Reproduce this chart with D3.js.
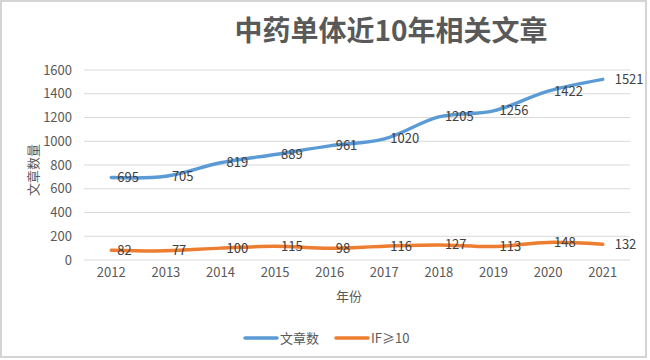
<!DOCTYPE html>
<html>
<head>
<meta charset="utf-8">
<script src="https://cdn.jsdelivr.net/npm/d3@7"></script>
<style>
	body { margin: 0; background: #fff; }
	svg text { font-family: "Noto Sans CJK SC", "Noto Sans", sans-serif; }
</style>
</head>
<body>
<svg id="chart" width="650" height="360"></svg>
<script>
// Data
const years = ["2012", "2013", "2014", "2015", "2016", "2017", "2018", "2019", "2020", "2021"];
const articles = [695, 705, 819, 889, 961, 1020, 1205, 1256, 1422, 1521];
const highIF = [82, 77, 100, 115, 98, 116, 127, 113, 148, 132];
const yTicks = [0, 200, 400, 600, 800, 1000, 1200, 1400, 1600];
const seriesNames = ["文章数", "IF≥10"];

const colors = ["#5B9BD5", "#ED7D31"];
const margin = { top: 70, right: 20, bottom: 100, left: 84 };

const svg = d3.select("#chart");

// outer frame
svg.append("rect")
	.attr("x", 1).attr("y", 1)
	.attr("width", 645).attr("height", 356)
	.attr("fill", "#fff")
	.attr("stroke", "#d4d4d4")
	.attr("stroke-width", 2);

const x = d3.scaleBand()
	.domain(years)
	.range([margin.left, 630]);

const y = d3.scaleLinear()
	.domain([0, 1600])
	.range([260, margin.top]);

// gridlines
svg.append("g")
	.selectAll("line")
	.data(yTicks)
	.join("line")
	.attr("x1", margin.left)
	.attr("x2", 630)
	.attr("y1", d => y(d))
	.attr("y2", d => y(d))
	.attr("stroke", "#d9d9d9")
	.attr("stroke-width", 1);

// y axis labels
const yAxis = d3.axisLeft(y).tickValues(yTicks).tickFormat(d3.format("d")).tickSize(0).tickPadding(12);
svg.append("g")
	.attr("transform", `translate(${margin.left},0)`)
	.call(yAxis)
	.call(g => g.select(".domain").remove())
	.selectAll("text")
	.attr("font-size", 13)
	.attr("fill", "#595959");

// x axis labels
const xAxis = d3.axisBottom(x).tickSize(0).tickPadding(8);
svg.append("g")
	.attr("transform", "translate(0,260)")
	.call(xAxis)
	.call(g => g.select(".domain").remove())
	.selectAll("text")
	.attr("font-size", 13)
	.attr("fill", "#595959");

// title
svg.append("text")
	.attr("x", 391)
	.attr("y", 41)
	.attr("text-anchor", "middle")
	.attr("font-size", 28)
	.attr("font-weight", "bold")
	.attr("fill", "#595959")
	.text("中药单体近10年相关文章");

// axis titles
svg.append("text")
	.attr("transform", "translate(38,170) rotate(-90)")
	.attr("text-anchor", "middle")
	.attr("font-size", 13)
	.attr("fill", "#595959")
	.text("文章数量");

svg.append("text")
	.attr("x", 349)
	.attr("y", 301)
	.attr("text-anchor", "middle")
	.attr("font-size", 13)
	.attr("fill", "#595959")
	.text("年份");

// lines
const line = d3.line()
	.x((d, i) => x(years[i]) + x.bandwidth() / 2)
	.y(d => y(d))
	.curve(d3.curveCatmullRom.alpha(0.5));

[articles, highIF].forEach(function(series, s) {
	svg.append("path")
		.datum(series)
		.attr("d", line)
		.attr("fill", "none")
		.attr("stroke", colors[s])
		.attr("stroke-width", 3.5)
		.attr("stroke-linecap", "round");

	svg.append("g")
		.selectAll("text")
		.data(series)
		.join("text")
		.attr("x", (d, i) => x(years[i]) + x.bandwidth() / 2 + (i === series.length - 1 ? 12 : 6))
		.attr("y", d => y(d))
		.attr("dy", "0.35em")
		.attr("font-size", 13)
		.attr("fill", "#404040")
		.text(d => d);
});

// legend
const legendX = [245, 336];
seriesNames.forEach(function(name, i) {
	const g = svg.append("g").attr("transform", `translate(${legendX[i]},338)`);
	g.append("line")
		.attr("x1", 0).attr("x2", 32)
		.attr("stroke", colors[i])
		.attr("stroke-width", 3.5)
		.attr("stroke-linecap", "round");
	g.append("text")
		.attr("x", 35)
		.attr("dy", "0.35em")
		.attr("font-size", 13)
		.attr("fill", "#595959")
		.text(name);
});
</script>
</body>
</html>
